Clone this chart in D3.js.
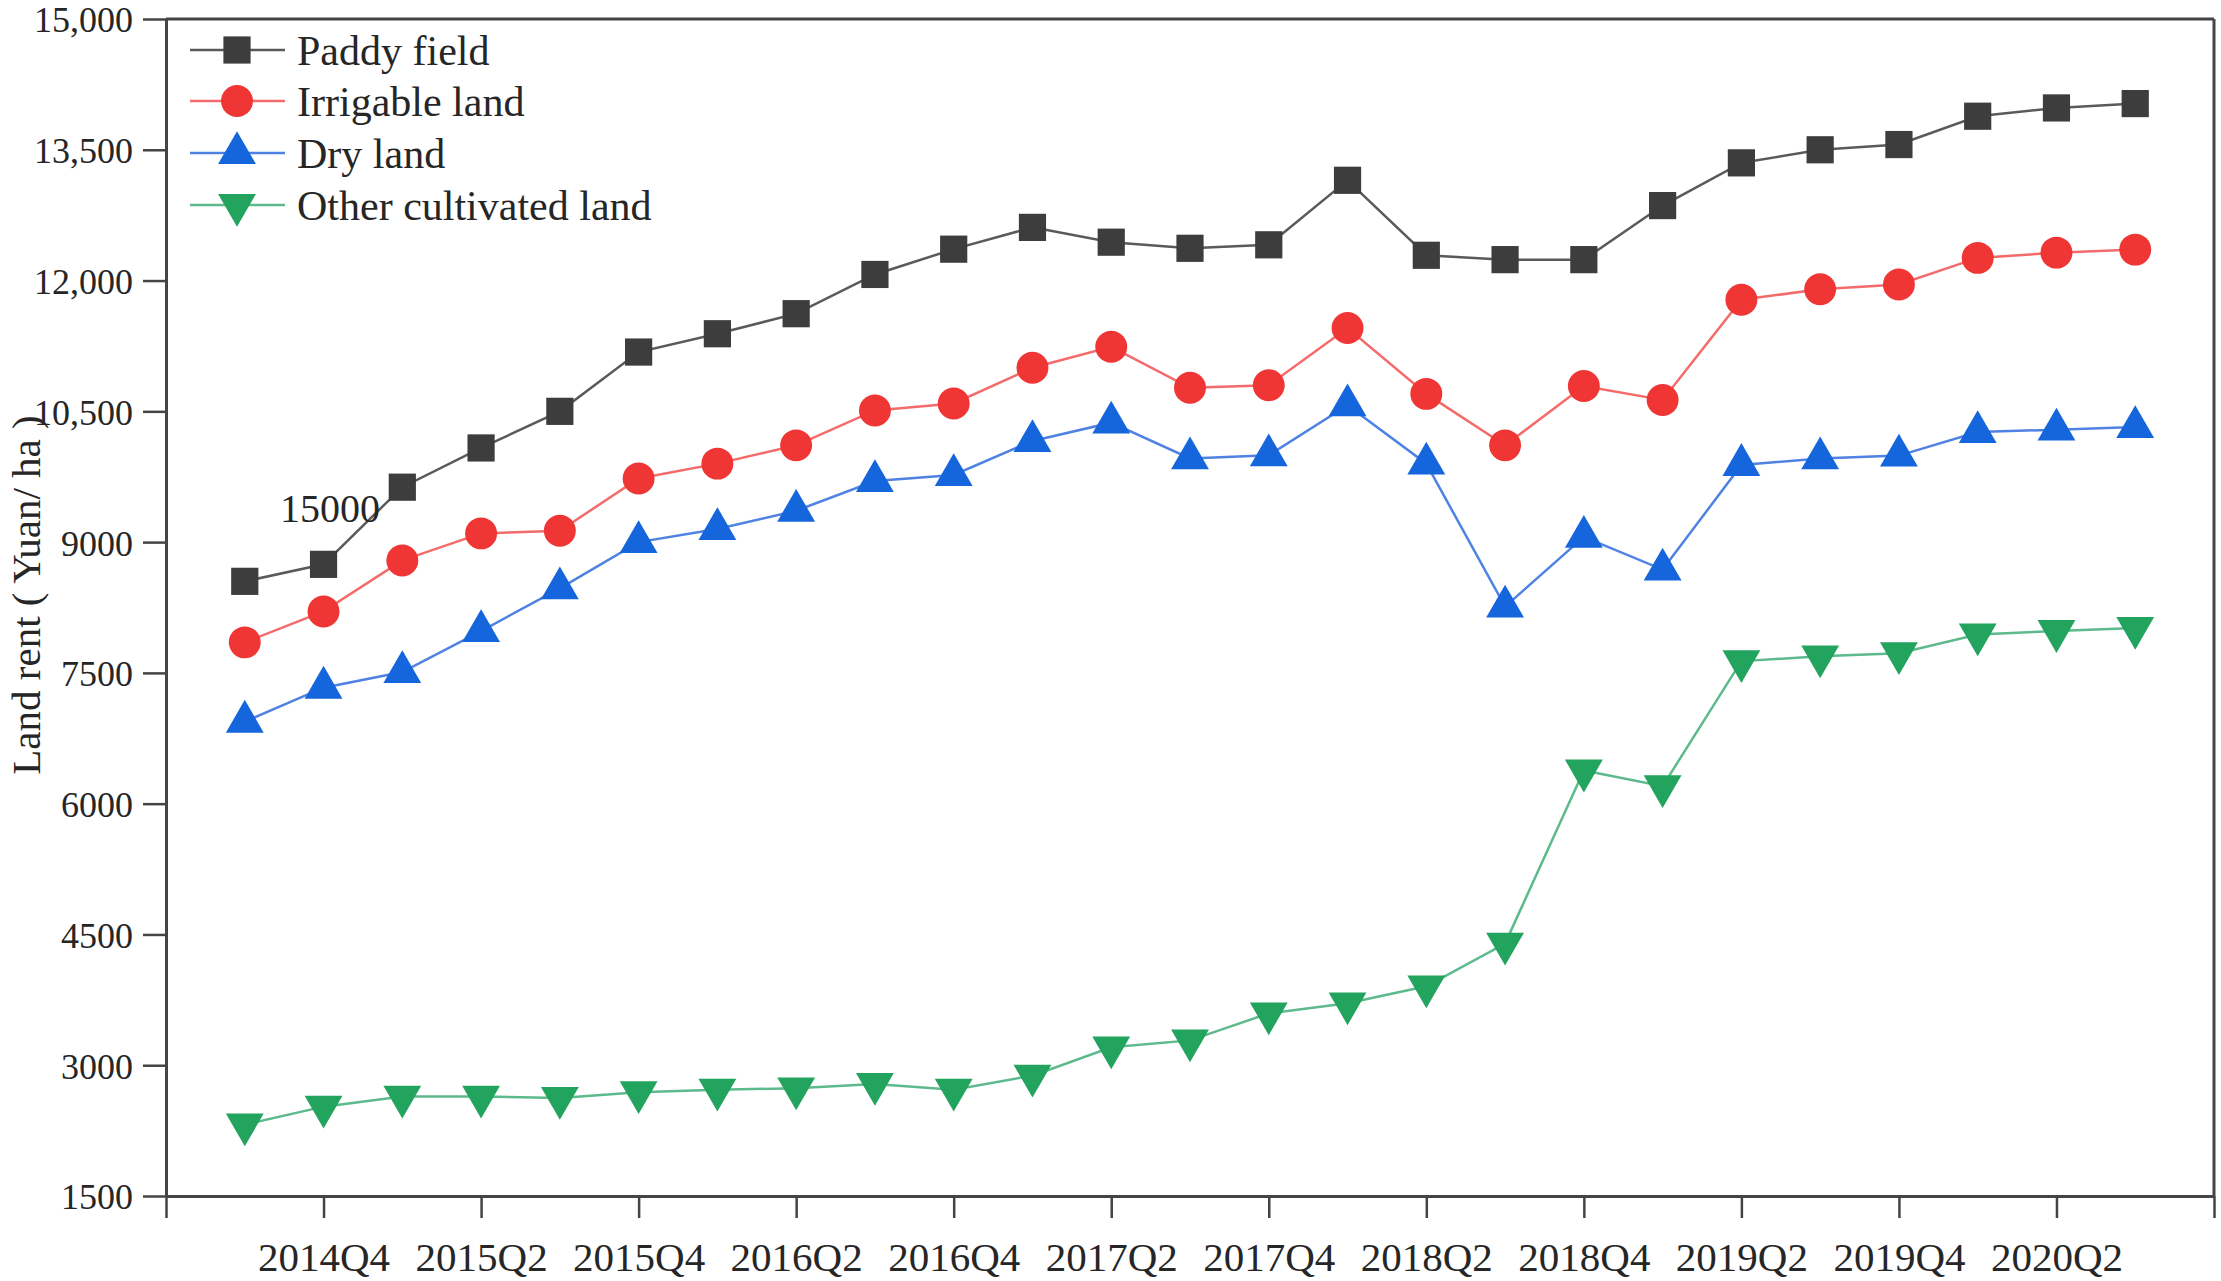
<!DOCTYPE html>
<html>
<head>
<meta charset="utf-8">
<script src="https://cdn.jsdelivr.net/npm/d3@7/dist/d3.min.js"></script>
<style>
  html, body { margin: 0; padding: 0; background: #ffffff; }
  svg { display: block; }
  svg text { font-family: 'Liberation Serif', 'Times New Roman', serif !important; fill: #262626; }
</style>
</head>
<body>
<svg id="chart" width="2221" height="1281"></svg>
<script>
// ---- data ----
const quarters = ["2014Q3","2014Q4","2015Q1","2015Q2","2015Q3","2015Q4","2016Q1","2016Q2","2016Q3","2016Q4",
  "2017Q1","2017Q2","2017Q3","2017Q4","2018Q1","2018Q2","2018Q3","2018Q4","2019Q1","2019Q2",
  "2019Q3","2019Q4","2020Q1","2020Q2","2020Q3"];
const seriesNames = ["Paddy field","Irrigable land","Dry land","Other cultivated land"];
const paddyField = [8550,8745,9630,10080,10500,11180,11390,11620,12070,12360,
  12610,12440,12370,12410,13150,12290,12240,12240,12860,13350,13500,13560,13885,13980,14030];
const irrigableLand = [7850,8205,8790,9100,9130,9730,9900,10110,10510,10590,
  11000,11240,10770,10800,11455,10700,10110,10790,10630,11780,11900,11955,12260,12320,12355];
const dryLand = [6940,7330,7510,7980,8470,9000,9150,9360,9700,9770,
  10160,10370,9960,9995,10570,9900,8260,9060,8685,9885,9960,9992,10262,10290,10320];
const otherLand = [2320,2525,2640,2640,2625,2690,2720,2735,2785,2720,
  2880,3205,3285,3595,3710,3905,4395,6380,6200,7635,7690,7725,7940,7980,8015];
const yTicks = [1500,3000,4500,6000,7500,9000,10500,12000,13500,15000];
const yTickLabels = ["1500","3000","4500","6000","7500","9000","10,500","12,000","13,500","15,000"];
const annotationText = "15000";
const yTitle = "Land rent ( Yuan/ ha )";

// ---- layout ----
const FONT = "'Liberation Serif', 'Times New Roman', serif";
const svg = d3.select("#chart");
const L = 166, R = 2214, T = 19, B = 1196;
const x = d3.scaleLinear().domain([-1, quarters.length]).range([L, R]);
const y = d3.scaleLinear().domain([1500, 15000]).range([B, T]);
const axisColor = "#444";

const styles = [
  { data: paddyField,   line: "#5a5a5a", fill: "#3d3d3d", symbol: d3.symbolSquare,   size: 740, rot: 0 },
  { data: irrigableLand, line: "#f36b6b", fill: "#f03535", symbol: d3.symbolCircle,   size: 800, rot: 0 },
  { data: dryLand,      line: "#4f82e2", fill: "#1565dc", symbol: d3.symbolTriangle, size: 620, rot: 0 },
  { data: otherLand,    line: "#5dba8c", fill: "#22a35e", symbol: d3.symbolTriangle, size: 620, rot: 180 }
];

// frame (top & right)
svg.append("line").attr("x1", L).attr("x2", R).attr("y1", T).attr("y2", T)
  .attr("stroke", axisColor).attr("stroke-width", 3);
svg.append("line").attr("x1", R).attr("x2", R).attr("y1", T).attr("y2", B)
  .attr("stroke", axisColor).attr("stroke-width", 3);

// x axis
const xTickVals = d3.range(-1, quarters.length + 1, 2);
const xAxis = d3.axisBottom(x).tickValues(xTickVals)
  .tickFormat(v => (v >= 0 && v < quarters.length) ? quarters[v] : "")
  .tickSize(22).tickSizeOuter(0).tickPadding(24);
const gx = svg.append("g").attr("transform", `translate(0,${B})`).call(xAxis)
  .attr("font-family", FONT).attr("font-size", 41);
gx.select(".domain").attr("stroke", axisColor).attr("stroke-width", 3);
gx.selectAll(".tick line").attr("stroke", axisColor).attr("stroke-width", 2.5);
gx.selectAll(".tick text").attr("fill", "#262626");

// y axis
const yAxis = d3.axisLeft(y).tickValues(yTicks)
  .tickFormat((d, i) => yTickLabels[i])
  .tickSize(23).tickSizeOuter(0).tickPadding(10);
const gy = svg.append("g").attr("transform", `translate(${L},0)`).call(yAxis)
  .attr("font-family", FONT).attr("font-size", 36);
gy.select(".domain").attr("stroke", axisColor).attr("stroke-width", 3);
gy.selectAll(".tick line").attr("stroke", axisColor).attr("stroke-width", 2.5);
gy.selectAll(".tick text").attr("fill", "#262626").attr("dy", "0.36em");

// y title
svg.append("text").attr("transform", `translate(40,595) rotate(-90)`)
  .attr("text-anchor", "middle").attr("font-family", FONT).attr("font-size", 41).text(yTitle);

// series
const line = d3.line().x((d, i) => x(i)).y(d => y(d));
styles.forEach(s => {
  svg.append("path").datum(s.data).attr("d", line)
    .attr("fill", "none").attr("stroke", s.line).attr("stroke-width", 2.5);
});
styles.forEach(s => {
  const sym = d3.symbol().type(s.symbol).size(s.size);
  svg.append("g").selectAll("path").data(s.data).join("path")
    .attr("d", sym)
    .attr("transform", (d, i) => `translate(${x(i)},${y(d)}) rotate(${s.rot})`)
    .attr("fill", s.fill);
});

// annotation
svg.append("text").attr("x", 280).attr("y", 522).attr("font-family", FONT).attr("font-size", 40).text(annotationText);

// legend
const legY = [50, 101, 153, 205];
styles.forEach((s, i) => {
  const g = svg.append("g").attr("transform", `translate(0,${legY[i]})`);
  g.append("line").attr("x1", 190).attr("x2", 285).attr("y1", 0).attr("y2", 0)
    .attr("stroke", s.line).attr("stroke-width", 2.5);
  g.append("path").attr("d", d3.symbol().type(s.symbol).size(s.size)())
    .attr("transform", `translate(237,0) rotate(${s.rot})`).attr("fill", s.fill);
  g.append("text").attr("x", 297).attr("y", 0).attr("dy", "0.35em")
    .attr("font-family", FONT).attr("font-size", 42).text(seriesNames[i]);
});
</script>
</body>
</html>
